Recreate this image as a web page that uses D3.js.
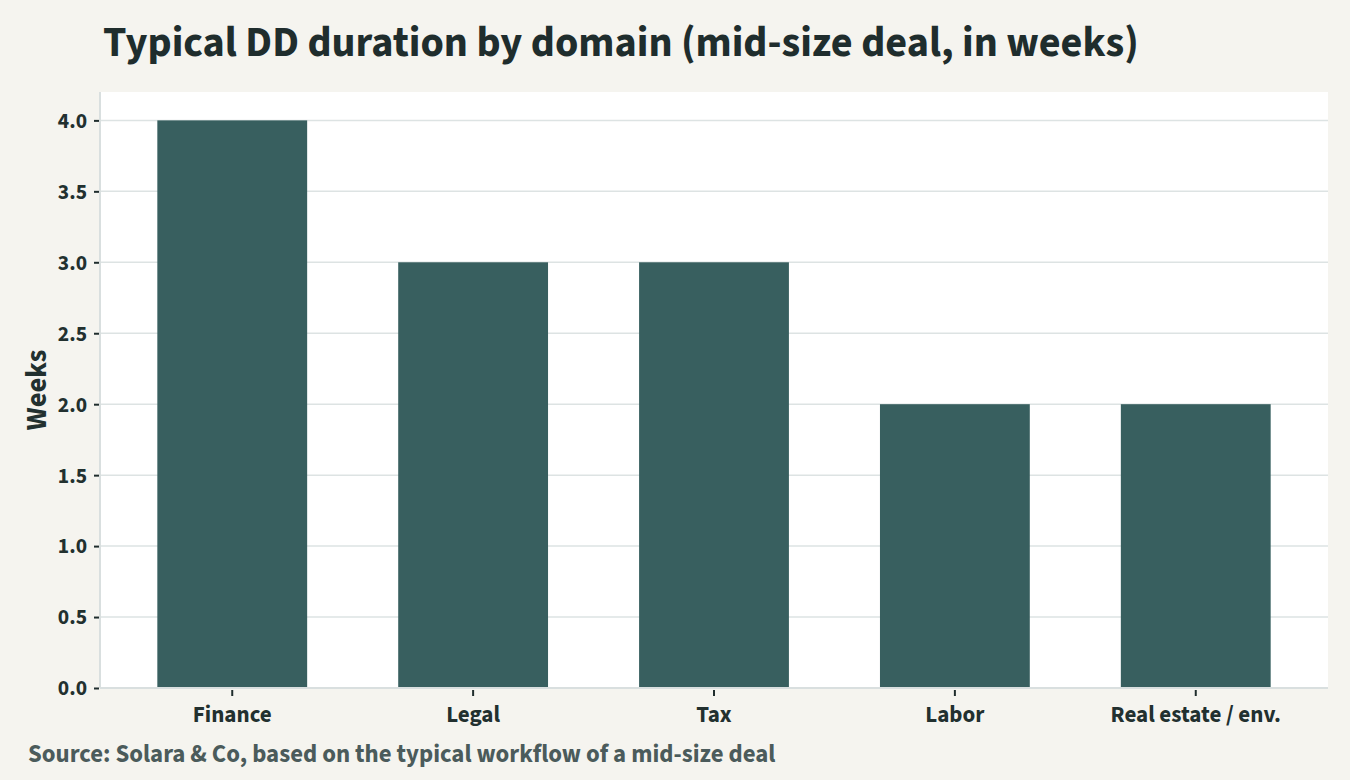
<!DOCTYPE html>
<html><head><meta charset="utf-8">
<script src="https://cdn.jsdelivr.net/npm/d3@7"></script>
<style>
html,body{margin:0;padding:0;background:#f5f4ef;}
svg{display:block;font-family:"Source Sans Pro","Source Sans 3",Lato,"Noto Sans",sans-serif;font-weight:700;}
</style></head>
<body>
<svg id="chart" width="1350" height="780"></svg>
<script>
const categories = ["Finance","Legal","Tax","Labor","Real estate / env."];
const weeks = [4, 3, 3, 2, 2];
const yTicks = [0,0.5,1,1.5,2,2.5,3,3.5,4];
const titleText = "Typical DD duration by domain (mid-size deal, in weeks)";
const sourceText = "Source: Solara & Co, based on the typical workflow of a mid-size deal";
const yLabel = "Weeks";

const FONT = '"Source Sans Pro","Source Sans 3",Lato,"Noto Sans",sans-serif';
const W = 1350, H = 780;
const m = {left:100, right:22, top:92, bottom:92};
const svg = d3.select("#chart");
svg.append("rect").attr("width",W).attr("height",H).attr("fill","#f5f4ef");

const x = d3.scaleBand().domain(categories).range([m.left, W-m.right]).paddingInner(0.378).paddingOuter(0.238);
const y = d3.scaleLinear().domain([0,4.2]).range([H-m.bottom, m.top]);

svg.append("rect").attr("x",m.left).attr("y",m.top).attr("width",W-m.right-m.left).attr("height",H-m.bottom-m.top).attr("fill","#ffffff");

// grid
svg.append("g").selectAll("line").data(yTicks.filter(d=>d>0)).join("line")
  .attr("x1",m.left).attr("x2",W-m.right).attr("y1",d=>y(d)).attr("y2",d=>y(d))
  .attr("stroke","#dde3e3").attr("stroke-width",1.5);

// bars
svg.append("g").selectAll("rect").data(categories).join("rect")
  .attr("x",d=>x(d)).attr("width",x.bandwidth())
  .attr("y",(d,i)=>y(weeks[i])).attr("height",(d,i)=>y(0)-y(weeks[i]))
  .attr("fill","#385f5f");

// y axis
const yAxis = svg.append("g").attr("transform",`translate(${m.left},0)`)
  .call(d3.axisLeft(y).tickValues(yTicks).tickFormat(d3.format(".1f")).tickSize(6).tickPadding(8))
  .attr("font-family",FONT).attr("font-size",21.5).attr("font-weight",700);
yAxis.select(".domain").attr("stroke","#d9dfdf").attr("stroke-width",2).attr("d",`M0,${m.top}V${H-m.bottom}`);
yAxis.selectAll(".tick line").attr("stroke","#1f2d2d").attr("stroke-width",2).attr("x1",-1).attr("x2",-6);
yAxis.selectAll(".tick text").attr("fill","#22302f").attr("x",-13);

// x axis
const xAxis = svg.append("g").attr("transform",`translate(0,${H-m.bottom})`)
  .call(d3.axisBottom(x).tickSize(7).tickPadding(10))
  .attr("font-family",FONT).attr("font-size",23).attr("font-weight",700);
xAxis.select(".domain").attr("stroke","#d9dfdf").attr("stroke-width",2).attr("d",`M${m.left},0H${W-m.right}`);
xAxis.selectAll(".tick line").attr("stroke","#1f2d2d").attr("stroke-width",2).attr("y1",2).attr("y2",8);
xAxis.selectAll(".tick text").attr("fill","#22302f").attr("y",18);

// y label
svg.append("text").attr("transform","translate(46,390) rotate(-90)").attr("text-anchor","middle")
  .attr("fill","#22302f").attr("font-size",28.5).text(yLabel);

// title
function fit(sel, target){
  const w = sel.node().getComputedTextLength();
  const fs = parseFloat(sel.attr("font-size"));
  sel.attr("font-size", fs*target/w);
}
const t = svg.append("text").attr("x",103).attr("y",56).attr("fill","#1f2d2d").attr("font-size",40).text(titleText);
fit(t, 1036);
const s = svg.append("text").attr("x",28).attr("y",762).attr("fill","#4b5b5b").attr("font-size",20).text(sourceText);
fit(s, 748);
</script>
</body></html>
